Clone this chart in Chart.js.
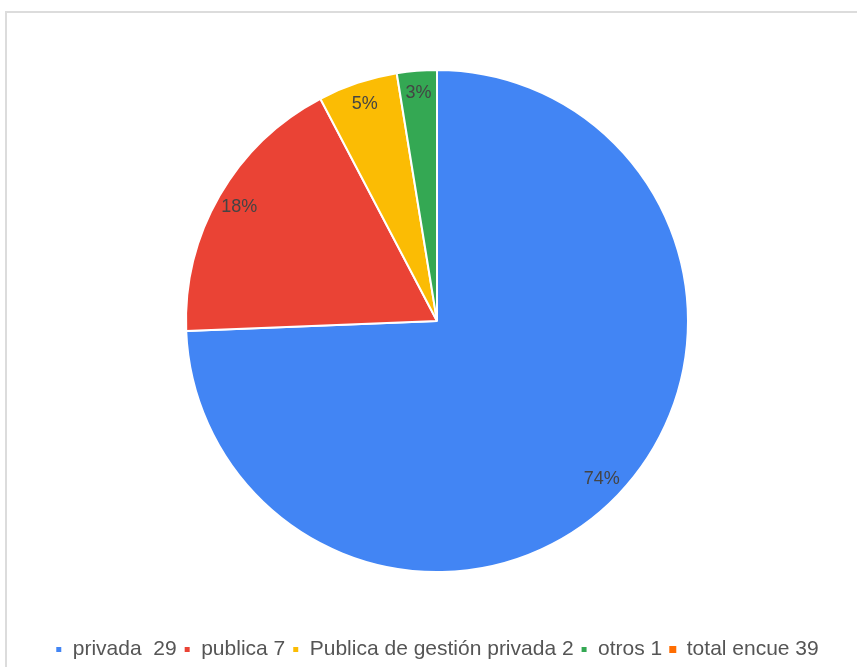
<!DOCTYPE html>
<html>
<head>
<meta charset="utf-8">
<script src="https://cdn.jsdelivr.net/npm/chart.js@4"></script>
<style>
  html, body { margin: 0; padding: 0; background: #fff; overflow: hidden; }
  #wrap { position: relative; width: 857px; height: 667px; overflow: hidden; }
  #frame { position: absolute; left: 5px; top: 11px; right: 0; bottom: 0;
           border-top: 2px solid #dcdcdc; border-left: 2px solid #dcdcdc; }
  canvas { position: absolute; left: 0; top: 0; }
</style>
</head>
<body>
<div id="wrap">
  <div id="frame"></div>
  <canvas id="myChart" width="857" height="670"></canvas>
</div>
<script>
// categories and values
const labels = ['privada  29', 'publica 7', 'Publica de gestión privada 2', 'otros 1', 'total encue 39'];
const values = [29, 7, 2, 1, 0];
const colors = ['#4285f4', '#ea4335', '#fbbc04', '#34a853', '#ff6d01'];

// percent labels inside the slices
const pctLabels = {
  id: 'pctLabels',
  afterDatasetsDraw(chart) {
    const ctx = chart.ctx;
    const meta = chart.getDatasetMeta(0);
    const data = chart.data.datasets[0].data;
    const sum = data.reduce((a, b) => a + b, 0);
    ctx.save();
    ctx.font = '18px "Liberation Sans", Arial, sans-serif';
    ctx.fillStyle = '#444';
    ctx.textAlign = 'center';
    ctx.textBaseline = 'middle';
    meta.data.forEach((arc, i) => {
      if (!data[i]) return;
      const p = arc.getProps(['x', 'y', 'startAngle', 'endAngle', 'outerRadius'], true);
      const mid = (p.startAngle + p.endAngle) / 2;
      const d = p.outerRadius * 0.91;
      const txt = Math.round(data[i] / sum * 100) + '%';
      ctx.fillText(txt, p.x + Math.cos(mid) * d, p.y + Math.sin(mid) * d);
    });
    ctx.restore();
  }
};

new Chart(document.getElementById('myChart').getContext('2d'), {
  type: 'pie',
  data: {
    labels: labels,
    datasets: [{
      data: values,
      backgroundColor: colors,
      borderColor: '#fff',
      borderWidth: [2, 2, 2, 2, 0],
      radius: 251
    }]
  },
  options: {
    responsive: false,
    animation: false,
    layout: { padding: { top: 10, left: 17, right: 0, bottom: 0 } },
    plugins: {
      tooltip: { enabled: false },
      legend: {
        position: 'bottom',
        labels: {
          boxWidth: 7,
          boxHeight: 7,
          padding: 7,
          color: '#555',
          font: { family: '"Liberation Sans", Arial, sans-serif', size: 21 }
        }
      }
    }
  },
  plugins: [pctLabels]
});
</script>
</body>
</html>
